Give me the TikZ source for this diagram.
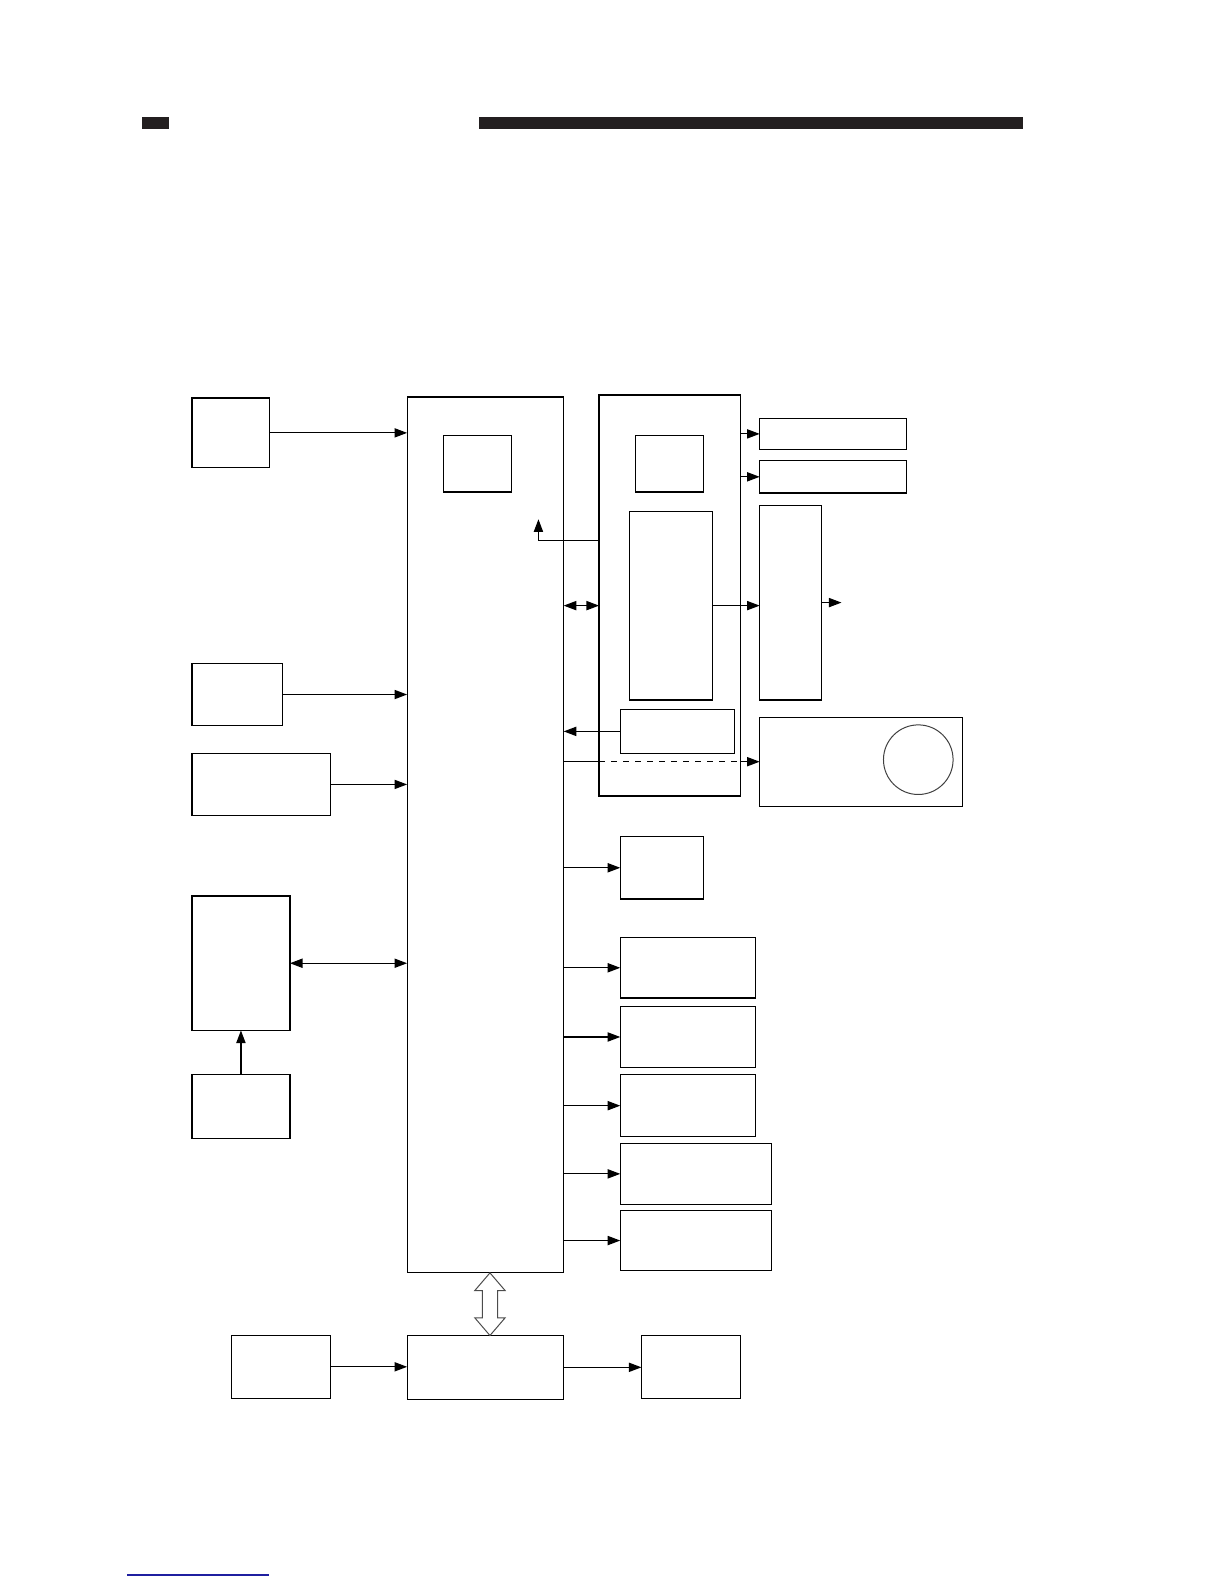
\documentclass[tikz,border=0pt]{standalone}
\usepackage{tikz}
\usetikzlibrary{arrows.meta,fit}
\definecolor{barink}{HTML}{231F20}
\definecolor{linkblue}{HTML}{1F1FA0}
\tikzset{
 bd box/.style={draw,line width=.6pt,inner sep=0pt,outer sep=0pt},
 bd line/.style={line width=.6pt},
 bd arrow/.style={line width=.6pt,-{Triangle[length=6.3pt,width=4.6pt]}},
 bd both/.style={line width=.6pt,
                 {Triangle[length=6.3pt,width=4.6pt]}-{Triangle[length=6.3pt,width=4.6pt]}},
 bd bus/.style={draw=black!70,line width=.5pt,fill=white},
 bd lamp/.style={draw=black!75,circle,line width=.5pt,minimum size=34.8pt,inner sep=0pt}
}

\begin{document}
\begin{tikzpicture}[x=0.505pt,y=-0.505pt]
 \useasboundingbox (0,0) rectangle (1212,1568);
 \fill[barink] (141,116) rectangle (167,128);
 \fill[barink] (474,116) rectangle (1013,128);

 % control board
 \node[bd box,fit={(403,393) (558,1260)}] (ctrl) {};
 \node[bd box,fit={(439,431) (506,487)}] (ctrlmem) {};

 % inputs
 \node[bd box,fit={(190,394) (267,463)}] (in1) {};
 \node[bd box,fit={(190,657) (280,718)}] (in2) {};
 \node[bd box,fit={(190,746) (327,807)}] (in3) {};
 \node[bd box,fit={(190,887) (287,1020)}] (in4) {};
 \node[bd box,fit={(190,1064) (287,1127)}] (in5) {};

 % driver board
 \node[bd box,fit={(593,391) (733,788)}] (drv) {};
 \node[bd box,fit={(629,431) (696,487)}] (drvmem) {};
 \node[bd box,fit={(623,506) (705,693)}] (drvic) {};
 \node[bd box,fit={(614,702) (727,746)}] (drvin) {};

 \node[bd box,fit={(752,414) (897,445)}] (out1) {};
 \node[bd box,fit={(752,456) (897,488)}] (out2) {};
 \node[bd box,fit={(752,500) (813,693)}] (amp) {};
 \node[bd box,fit={(752,710) (953,798)}] (motor) {};
 \node[bd lamp] (lamp) at (909,752) {};

 % loads
 \node[bd box,fit={(614,828) (696,890)}] (load1) {};
 \node[bd box,fit={(614,928) (748,988)}] (load2) {};
 \node[bd box,fit={(614,996) (748,1057)}] (load3) {};
 \node[bd box,fit={(614,1064) (748,1125)}] (load4) {};
 \node[bd box,fit={(614,1132) (764,1192)}] (load5) {};
 \node[bd box,fit={(614,1198) (764,1258)}] (load6) {};

 % bottom row
 \node[bd box,fit={(229,1322) (327,1384)}] (src) {};
 \node[bd box,fit={(403,1322) (558,1385)}] (io) {};
 \node[bd box,fit={(635,1322) (733,1384)}] (dst) {};

 \coordinate (fbrow) at (0,535);
 \coordinate (fbtip) at (533,514);
 \coordinate (ampout) at (833,598);
 \coordinate (bustop) at (485,1260);

 \draw[bd arrow] (in1.east) -- (in1.east -| ctrl.west);
 \draw[bd arrow] (in2.east) -- (in2.east -| ctrl.west);
 \draw[bd arrow] (in3.east) -- (in3.east -| ctrl.west);
 \draw[bd both] (in4.east) -- (in4.east -| ctrl.west);
 \draw[bd arrow] (in5.north) -- (in4.south);

 \draw[bd arrow] (drv.west |- fbrow) -| (fbtip);
 \draw[bd both] (drvic.west -| ctrl.east) -- (drvic.west -| drv.west);
 \foreach \o in {out1,out2}
   \draw[bd arrow] (\o.west -| drv.east) -- (\o.west);
 \draw[bd arrow] (drvic.east) -- (drvic.east -| amp.west);
 \draw[bd arrow] (amp.east) -- (amp.east -| ampout);
 \draw[bd arrow] (drvin.west) -- (drvin.west -| ctrl.east);
 \draw[bd line] (motor.west -| ctrl.east) -- (motor.west -| drv.west);
 \draw[bd line,dashed] (motor.west -| drv.west) -- (motor.west -| drv.east);
 \draw[bd arrow] (motor.west -| drv.east) -- (motor.west);

 \foreach \l in {1,...,6}
   \draw[bd arrow] (load\l.west -| ctrl.east) -- (load\l.west);

 \draw[bd arrow] (src.east) -- (src.east -| io.west);
 \draw[bd arrow] (io.east) -- (io.east -| dst.west);
 \draw[bd bus] (bustop) -- ++(15,17.5) -- ++(-7.5,0) -- ++(0,27) -- ++(7.5,0)
   -- ++(-15,17.5) -- ++(-15,-17.5) -- ++(7.5,0) -- ++(0,-27) -- ++(-7.5,0) -- cycle;

 \draw[linkblue,line width=.6pt] (126,1559) -- (266,1559);
\end{tikzpicture}
\end{document}
